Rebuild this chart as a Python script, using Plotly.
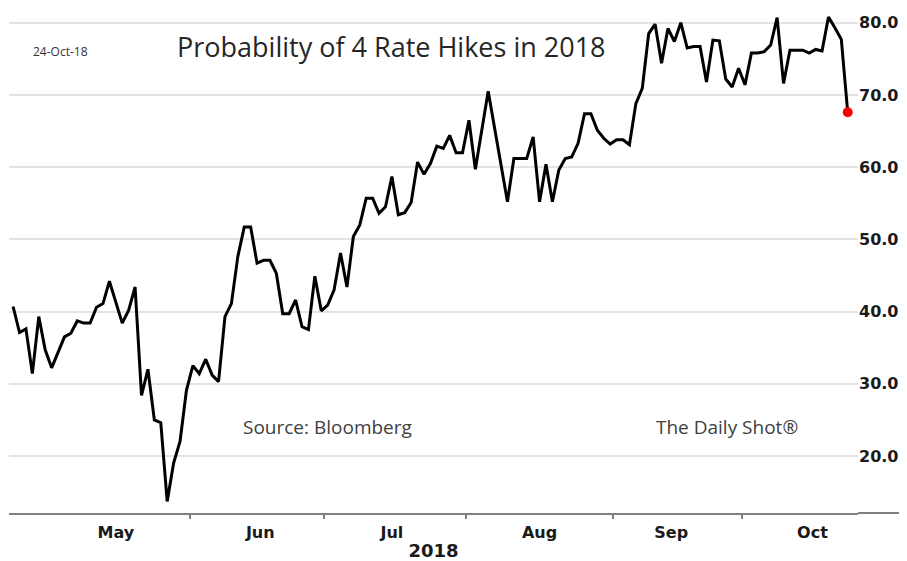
import pandas as pd
import plotly.graph_objects as go

# daily readings, business days starting 24-Apr-2018
start_date = "2018-04-24"
prob = [
    40.7, 37.1, 37.6, 31.4, 39.3,
    34.7, 32.2, 34.4, 36.5, 37.0, 38.7, 38.4, 38.4, 40.6, 41.1,
    44.2, 41.2, 38.4, 40.2, 43.4, 28.4, 32.0, 25.0, 24.6, 13.7,
    19.0, 22.0, 29.1,
    32.5, 31.4, 33.4, 31.2, 30.3, 39.3, 41.1, 47.6, 51.7, 51.7,
    46.7, 47.1, 47.1, 45.3, 39.7, 39.7, 41.6, 37.9, 37.5, 44.9,
    40.1,
    40.9, 43.0, 48.1, 43.4, 50.4, 52.0, 55.7, 55.7, 53.6, 54.5,
    58.7, 53.4, 53.7, 55.1, 60.7, 59.0, 60.5, 62.9, 62.6, 64.4,
    62.0, 62.0,
    66.5, 59.7, 65.0, 70.5, 65.4, 60.3, 55.2, 61.2, 61.2, 61.2,
    64.2, 55.2, 60.4, 55.2, 59.6, 61.2, 61.4, 63.3, 67.4, 67.4,
    65.1, 64.0, 63.2,
    63.8, 63.8, 63.1, 68.8, 70.9, 78.5, 79.8, 74.4, 79.2, 77.4,
    80.0, 76.5, 76.7, 76.7, 71.8, 77.6, 77.5, 72.2, 71.1, 73.7,
    71.4, 75.8, 75.8, 76.0, 76.9, 80.7, 71.6, 76.2, 76.2, 76.2,
    75.8, 76.3, 76.1, 80.8, 79.3, 77.7, 67.6,
]
y_ticks = [20, 30, 40, 50, 60, 70, 80]

dates = pd.bdate_range(start_date, periods=len(prob)) + pd.Timedelta(hours=12)
df = pd.DataFrame({"date": dates, "prob": prob})

fig = go.Figure()
fig.add_trace(go.Scatter(x=df["date"], y=df["prob"], mode="lines",
                         line=dict(color="black", width=3), hoverinfo="skip"))
fig.add_trace(go.Scatter(x=df["date"].iloc[-1:], y=df["prob"].iloc[-1:], mode="markers",
                         marker=dict(color="#ff0000", size=10)))

tick_font = dict(family="DejaVu Sans", size=16, color="#1a1a1a", weight="bold")
month_font = dict(family="DejaVu Sans", size=16, color="#1a1a1a", weight="bold")
note_font = dict(family="Open Sans", size=19, color="#404040")

# page body has an 8px margin, so the figure is 8px smaller than the window
fig.update_layout(
    width=899, height=553,
    margin=dict(l=1, r=49, t=0, b=48),
    paper_bgcolor="white", plot_bgcolor="white",
    showlegend=False,
    xaxis=dict(
        type="date",
        range=["2018-04-23 20:40", "2018-10-25 02:24"],
        rangebreaks=[dict(bounds=["sat", "mon"])],
        tick0="2018-05-01", dtick="M1", tickformat="%b",
        ticklabelmode="period",
        ticks="outside", ticklen=4, tickcolor="#808080", tickwidth=1.5,
        showline=True, linecolor="#808080", linewidth=2,
        showgrid=False, zeroline=False,
        tickfont=month_font,
        title=dict(text="2018", font=dict(family="DejaVu Sans", size=18, color="#1a1a1a", weight="bold"),
                   standoff=3),
    ),
    yaxis=dict(
        side="right", range=[12.1, 82.04],
        tickvals=y_ticks, tickformat=".1f",
        showgrid=True, gridcolor="#e3e3e3", gridwidth=1.5,
        zeroline=False, showline=False, ticks="",
        tickfont=tick_font,
    ),
)

# axis line runs on past the plot area in the original
fig.add_shape(type="line", xref="paper", yref="paper", x0=1, x1=1.057, y0=0, y1=0,
              line=dict(color="#808080", width=2))

notes = [
    ("Probability of 4 Rate Hikes in 2018", 0.45, 0.923, dict(family="Open Sans", size=27, color="#262626")),
    ("24-Oct-18", 0.061, 0.913, dict(family="Open Sans", size=12, color="#333333")),
    ("Source: Bloomberg", 0.3746, 0.170, note_font),
    ("The Daily Shot®", 0.846, 0.170, note_font),
]
for text, nx, ny, font in notes:
    fig.add_annotation(text=text, xref="paper", yref="paper", x=nx, y=ny,
                       xanchor="center", yanchor="middle", showarrow=False, font=font)

fig.write_html("out.html")
